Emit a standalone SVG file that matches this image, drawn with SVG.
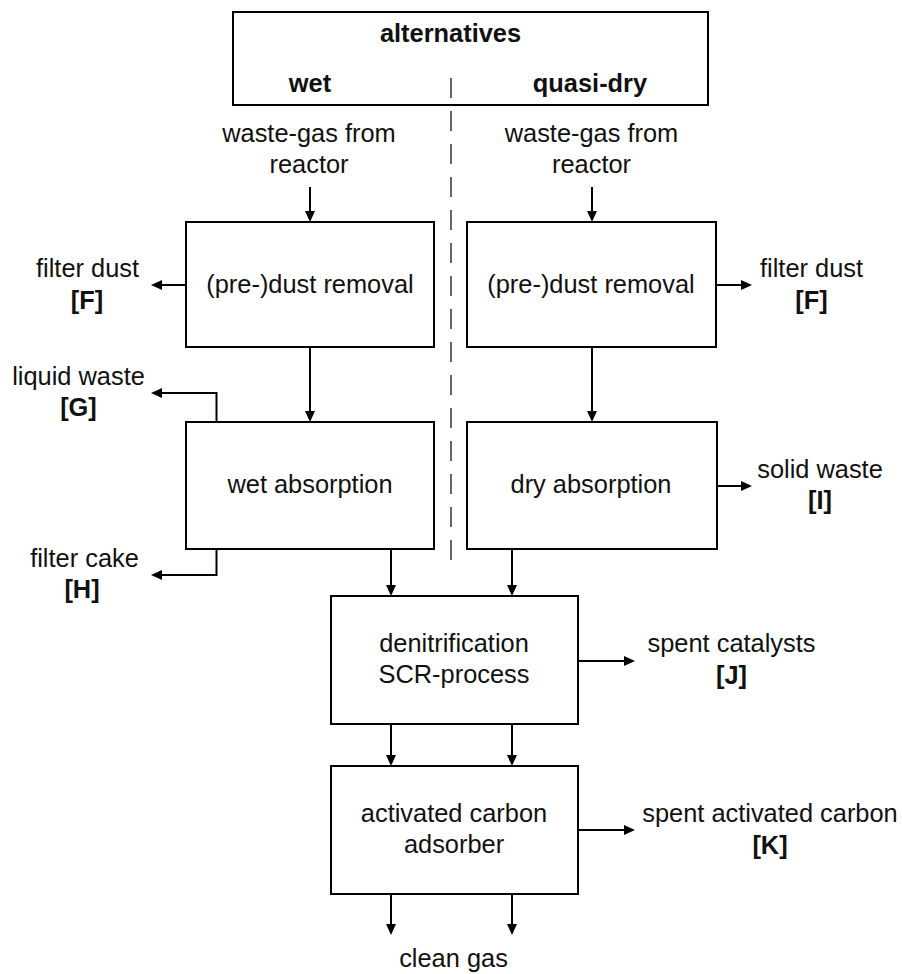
<svg xmlns="http://www.w3.org/2000/svg" width="902" height="974" viewBox="0 0 902 974">
  <defs>
    <marker id="arrow" viewBox="0 0 11 10" refX="5" refY="5" markerWidth="11" markerHeight="10" markerUnits="userSpaceOnUse" orient="auto">
      <path d="M0,0 L11,5 L0,10 z" fill="#000"/>
    </marker>
    <style>
      text { font-family: "Liberation Sans", Arial, sans-serif; font-size: 25.4px; fill: #111; text-anchor: middle; }
      .b { font-weight: bold; }
      .box { fill: #fff; stroke: #000; stroke-width: 2; }
      .con { fill: none; stroke: #000; stroke-width: 2; marker-end: url(#arrow); }
      .dash { fill: none; stroke: #333; stroke-width: 1.5; stroke-dasharray: 20 13; }
    </style>
  </defs>
  <rect width="902" height="974" fill="#fff"/>

  <g id="alternatives">
    <rect class="box" x="233" y="12" width="475" height="93"/>
    <text class="b" x="450.5" y="42">alternatives</text>
    <text class="b" x="310" y="92">wet</text>
    <text class="b" x="590" y="92">quasi-dry</text>
  </g>

  <line class="dash" x1="451" y1="78" x2="451" y2="572"/>

  <g id="src-wet">
    <text x="309" y="142">waste-gas from</text>
    <text x="309" y="173">reactor</text>
  </g>
  <g id="src-dry">
    <text x="591.5" y="142">waste-gas from</text>
    <text x="591.5" y="173">reactor</text>
  </g>

  <g id="dust-wet">
    <rect class="box" x="186" y="222" width="248" height="125"/>
    <text x="310" y="293">(pre-)dust removal</text>
  </g>
  <g id="dust-dry">
    <rect class="box" x="467" y="222" width="249" height="125"/>
    <text x="591" y="293">(pre-)dust removal</text>
  </g>

  <g id="wet-absorption">
    <rect class="box" x="186" y="422" width="248" height="127"/>
    <text x="310" y="493">wet absorption</text>
  </g>
  <g id="dry-absorption">
    <rect class="box" x="467" y="422" width="250" height="127"/>
    <text x="591" y="493">dry absorption</text>
  </g>

  <g id="scr">
    <rect class="box" x="331" y="596" width="247" height="128"/>
    <text x="454" y="652">denitrification</text>
    <text x="454" y="683">SCR-process</text>
  </g>

  <g id="carbon">
    <rect class="box" x="331" y="766" width="247" height="128"/>
    <text x="454" y="822">activated carbon</text>
    <text x="454" y="853">adsorber</text>
  </g>

  <g id="out-filter-dust-wet">
    <text x="87.5" y="277">filter dust</text>
    <text class="b" x="87" y="309">[F]</text>
  </g>
  <g id="out-filter-dust-dry">
    <text x="811.5" y="277">filter dust</text>
    <text class="b" x="811.5" y="309">[F]</text>
  </g>
  <g id="out-liquid-waste">
    <text x="78.5" y="385">liquid waste</text>
    <text class="b" x="78.5" y="416">[G]</text>
  </g>
  <g id="out-filter-cake">
    <text x="84.5" y="567">filter cake</text>
    <text class="b" x="82" y="598">[H]</text>
  </g>
  <g id="out-solid-waste">
    <text x="820" y="478">solid waste</text>
    <text class="b" x="820" y="509">[I]</text>
  </g>
  <g id="out-spent-catalysts">
    <text x="731.5" y="652">spent catalysts</text>
    <text class="b" x="731.5" y="684">[J]</text>
  </g>
  <g id="out-spent-carbon">
    <text x="770" y="822">spent activated carbon</text>
    <text class="b" x="770" y="854">[K]</text>
  </g>
  <g id="out-clean-gas">
    <text x="453.5" y="967">clean gas</text>
  </g>

  <g id="connectors">
    <path class="con" d="M310,187 V216"/>
    <path class="con" d="M592,187 V216"/>
    <path class="con" d="M186,285 H157"/>
    <path class="con" d="M716,285 H746"/>
    <path class="con" d="M310,347 V416"/>
    <path class="con" d="M592,347 V416"/>
    <path class="con" d="M216.5,422 V393 H157"/>
    <path class="con" d="M216.5,549 V575 H157"/>
    <path class="con" d="M717,486 H746"/>
    <path class="con" d="M391,549 V590"/>
    <path class="con" d="M512,549 V590"/>
    <path class="con" d="M578,661 H629"/>
    <path class="con" d="M391,724 V760"/>
    <path class="con" d="M512,724 V760"/>
    <path class="con" d="M578,830 H629"/>
    <path class="con" d="M391,894 V929"/>
    <path class="con" d="M512,894 V929"/>
  </g>
</svg>
